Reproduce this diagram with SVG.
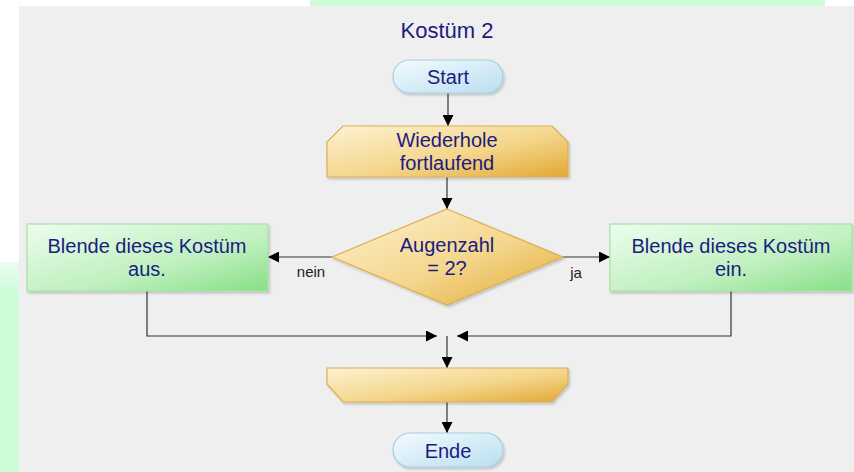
<svg xmlns="http://www.w3.org/2000/svg" width="854" height="472" viewBox="0 0 854 472">
<defs>
<linearGradient id="gold" x1="0" y1="0" x2="1" y2="1">
<stop offset="0" stop-color="#fdf2d2"/>
<stop offset="0.55" stop-color="#f4d68c"/>
<stop offset="1" stop-color="#e2a833"/>
</linearGradient>
<linearGradient id="green" x1="0" y1="0" x2="1" y2="1">
<stop offset="0" stop-color="#edfdee"/>
<stop offset="0.6" stop-color="#bff0bf"/>
<stop offset="1" stop-color="#86df86"/>
</linearGradient>
<linearGradient id="blue" x1="0" y1="0" x2="1" y2="1">
<stop offset="0" stop-color="#f4fbfe"/>
<stop offset="1" stop-color="#b9def0"/>
</linearGradient>
<linearGradient id="strip" x1="0" y1="0" x2="0" y2="1">
<stop offset="0" stop-color="#ccfcd8" stop-opacity="0.4"/>
<stop offset="0.15" stop-color="#ccfcd8"/>
<stop offset="1" stop-color="#ccfcd8"/>
</linearGradient>
<marker id="arr" viewBox="0 0 10 10" refX="10" refY="5" markerWidth="11" markerHeight="11" markerUnits="userSpaceOnUse" orient="auto">
<path d="M0,0 L10,5 L0,10 z" fill="#000"/>
</marker>
<filter id="sh" x="-10%" y="-10%" width="130%" height="140%">
<feDropShadow dx="1.5" dy="2" stdDeviation="1" flood-color="#000" flood-opacity="0.18"/>
</filter>
</defs>
<style>
.t{font-family:"Liberation Sans",Arial,sans-serif;fill:#1c1c80;text-anchor:middle;font-size:20px}
.l{font-family:"Liberation Sans",Arial,sans-serif;fill:#222;font-size:15px;text-anchor:middle}
.gold{fill:url(#gold);stroke:#dcae52;stroke-width:1.2;filter:url(#sh)}
.grn{fill:url(#green);stroke:#a6e2a6;stroke-width:1.2;filter:url(#sh)}
.pill{fill:url(#blue);stroke:#a5d0e2;stroke-width:1.2;filter:url(#sh)}
.ca{fill:none;stroke:#333;stroke-width:1.2;marker-end:url(#arr)}
</style>
<rect x="0" y="0" width="854" height="472" fill="#fff"/>
<rect x="310" y="0" width="515" height="7" fill="#ccfcd8"/>
<rect x="0" y="262" width="20" height="210" fill="url(#strip)"/>
<rect x="19" y="6" width="835" height="466" fill="#efefef"/>
<text class="t" x="447" y="38" style="font-size:22px">Kostüm 2</text>
<g id="connectors">
<path class="ca" d="M448,93 V126"/>
<path class="ca" d="M447,177 V209"/>
<path class="ca" d="M332,257 H268"/>
<path class="ca" d="M563,257 H610"/>
<path class="ca" d="M147,291 V336 H437"/>
<path class="ca" d="M731,291 V336 H457"/>
<path class="ca" d="M447,336 V368"/>
<path class="ca" d="M447,402 V433"/>
<text class="l" x="311" y="277">nein</text>
<text class="l" x="576" y="278">ja</text>
</g>
<g id="start">
<rect class="pill" x="393" y="60" width="110" height="33" rx="16.5"/>
<text class="t" x="448" y="84">Start</text>
</g>
<g id="loop">
<path class="gold" d="M343,126 H552 L568,142 V177 H327 V142 Z"/>
<text class="t" x="447" y="147">Wiederhole</text>
<text class="t" x="447" y="170">fortlaufend</text>
</g>
<g id="decision">
<path class="gold" d="M447,209 L563,257 L447,305 L332,257 Z"/>
<text class="t" x="447" y="252">Augenzahl</text>
<text class="t" x="447" y="275">= 2?</text>
</g>
<g id="nein">
<rect class="grn" x="27" y="224" width="241" height="67"/>
<text class="t" x="147" y="253">Blende dieses Kostüm</text>
<text class="t" x="147" y="276">aus.</text>
</g>
<g id="ja">
<rect class="grn" x="610" y="224" width="242" height="67"/>
<text class="t" x="731" y="253">Blende dieses Kostüm</text>
<text class="t" x="731" y="276">ein.</text>
</g>
<g id="loopend">
<path class="gold" d="M327,368 H568 V384 L552,402 H343 L327,384 Z"/>
</g>
<g id="ende">
<rect class="pill" x="393" y="433" width="110" height="34" rx="17"/>
<text class="t" x="448" y="458">Ende</text>
</g>
</svg>
